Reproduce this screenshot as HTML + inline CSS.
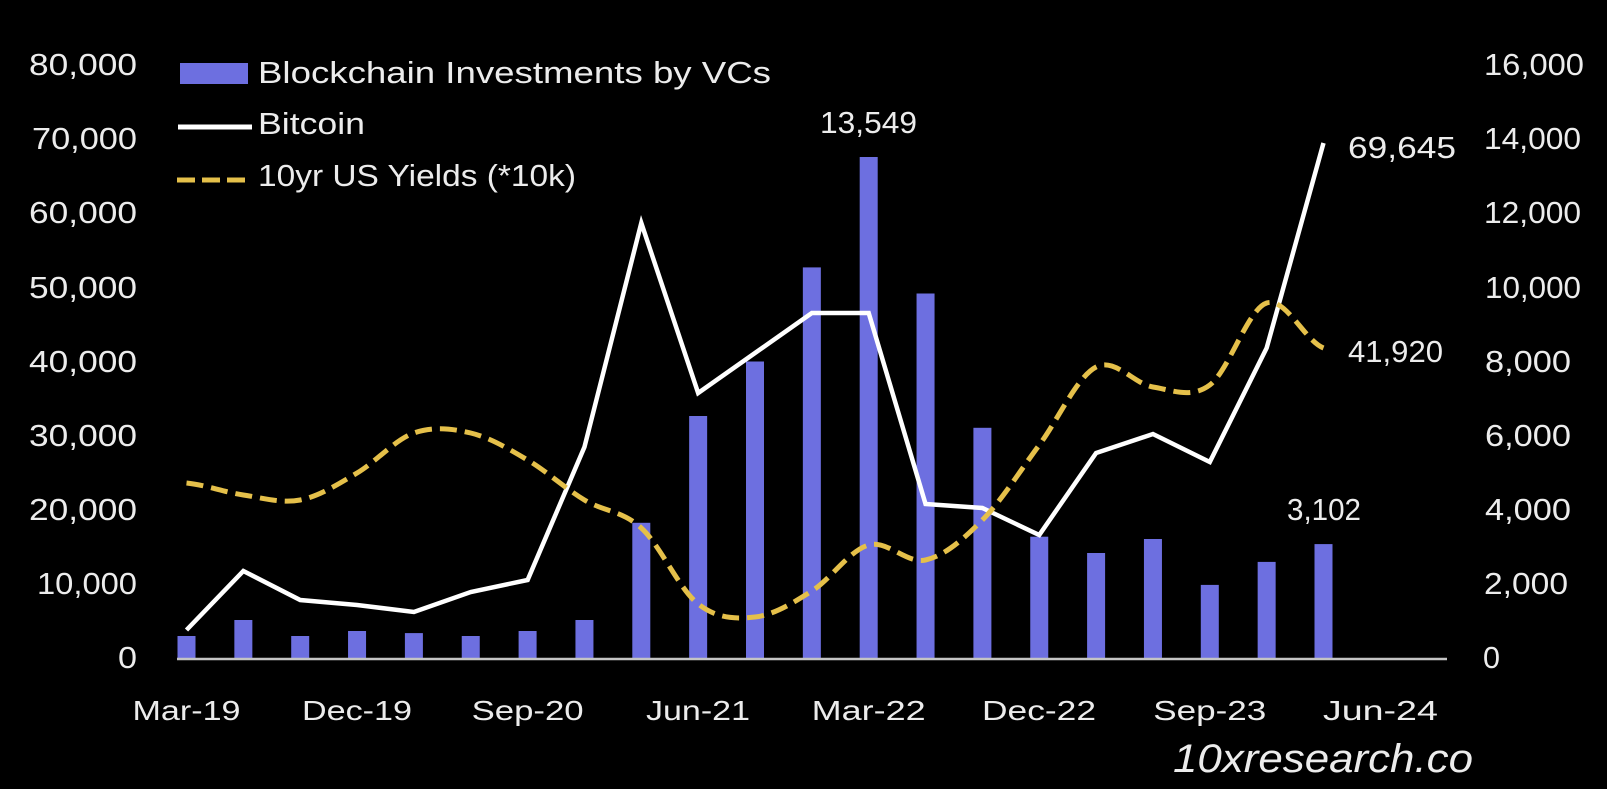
<!DOCTYPE html>
<html>
<head>
<meta charset="utf-8">
<style>
  html, body { margin:0; padding:0; background:#000; }
  body { width:1607px; height:789px; overflow:hidden; }
  svg { display:block; }
  text { font-family:"Liberation Sans", sans-serif; fill:#ececec; }
</style>
</head>
<body>
<svg width="1607" height="789" viewBox="0 0 1607 789" xmlns="http://www.w3.org/2000/svg">
  <rect x="0" y="0" width="1607" height="789" fill="#000"/>

  <!-- Left axis labels -->
  <g font-size="31" text-anchor="end">
    <text x="137" y="75" textLength="108" lengthAdjust="spacingAndGlyphs">80,000</text>
    <text x="137" y="149" textLength="105" lengthAdjust="spacingAndGlyphs">70,000</text>
    <text x="137" y="223" textLength="108" lengthAdjust="spacingAndGlyphs">60,000</text>
    <text x="137" y="298" textLength="108" lengthAdjust="spacingAndGlyphs">50,000</text>
    <text x="137" y="372" textLength="108" lengthAdjust="spacingAndGlyphs">40,000</text>
    <text x="137" y="446" textLength="108" lengthAdjust="spacingAndGlyphs">30,000</text>
    <text x="137" y="520" textLength="108" lengthAdjust="spacingAndGlyphs">20,000</text>
    <text x="137" y="594" textLength="100" lengthAdjust="spacingAndGlyphs">10,000</text>
    <text x="137" y="668" textLength="19" lengthAdjust="spacingAndGlyphs">0</text>
  </g>

  <!-- Right axis labels -->
  <g font-size="31">
    <text x="1484" y="75" textLength="100" lengthAdjust="spacingAndGlyphs">16,000</text>
    <text x="1484" y="149" textLength="97" lengthAdjust="spacingAndGlyphs">14,000</text>
    <text x="1484" y="223" textLength="97" lengthAdjust="spacingAndGlyphs">12,000</text>
    <text x="1485" y="298" textLength="96" lengthAdjust="spacingAndGlyphs">10,000</text>
    <text x="1485" y="372" textLength="86" lengthAdjust="spacingAndGlyphs">8,000</text>
    <text x="1485" y="446" textLength="86" lengthAdjust="spacingAndGlyphs">6,000</text>
    <text x="1485" y="520" textLength="86" lengthAdjust="spacingAndGlyphs">4,000</text>
    <text x="1484" y="594" textLength="84" lengthAdjust="spacingAndGlyphs">2,000</text>
    <text x="1483" y="668" textLength="17" lengthAdjust="spacingAndGlyphs">0</text>
  </g>

  <!-- Bars -->
  <g fill="#6d6fe0">
    <rect x="177.5" y="636.0" width="18" height="23.0"/>
    <rect x="234.35" y="620.0" width="18" height="39.0"/>
    <rect x="291.2" y="636.0" width="18" height="23.0"/>
    <rect x="348.05" y="631.0" width="18" height="28.0"/>
    <rect x="404.9" y="633.1" width="18" height="25.9"/>
    <rect x="461.75" y="636.0" width="18" height="23.0"/>
    <rect x="518.6" y="631.0" width="18" height="28.0"/>
    <rect x="575.45" y="620.0" width="18" height="39.0"/>
    <rect x="632.3" y="522.8" width="18" height="136.2"/>
    <rect x="689.15" y="416.0" width="18" height="243.0"/>
    <rect x="746.0" y="361.5" width="18" height="297.5"/>
    <rect x="802.85" y="267.4" width="18" height="391.6"/>
    <rect x="859.7" y="157.0" width="18" height="502.0"/>
    <rect x="916.55" y="293.5" width="18" height="365.5"/>
    <rect x="973.4" y="427.8" width="18" height="231.2"/>
    <rect x="1030.25" y="536.7" width="18" height="122.3"/>
    <rect x="1087.1" y="553.0" width="18" height="106.0"/>
    <rect x="1143.95" y="539.0" width="18" height="120.0"/>
    <rect x="1200.8" y="584.9" width="18" height="74.1"/>
    <rect x="1257.65" y="561.9" width="18" height="97.1"/>
    <rect x="1314.5" y="544.1" width="18" height="114.9"/>
  </g>

  <!-- Axis line -->
  <line x1="177" y1="659" x2="1447" y2="659" stroke="#c4c4c4" stroke-width="2.5"/>

  <!-- Bitcoin line -->
  <polyline fill="none" stroke="#ffffff" stroke-width="4.5" stroke-linejoin="miter"
    points="186.5,630 243.35,571 300.2,600 357.05,605 413.9,612 470.75,592 527.6,580 584.45,447 641.3,223 698.15,393 755,353 811.85,313 868.7,313 925.55,504 982.4,508 1039.25,535 1096.1,453 1152.95,434 1209.8,462 1266.65,348 1323.5,143"/>

  <!-- 10yr yields (smoothed, dashed) -->
  <path fill="none" stroke="#e5c04a" stroke-width="5" stroke-dasharray="17 8"
    d="M186.5,483
       C205.45,485 224.4,492.17 243.35,495
       C262.3,497.83 281.25,503.67 300.2,500
       C319.15,496.33 338.1,484.17 357.05,473
       C376,461.83 394.95,439.67 413.9,433
       C432.85,426.33 451.8,428.5 470.75,433
       C489.7,437.5 508.65,448.83 527.6,460
       C546.55,471.17 565.5,488.67 584.45,500
       C603.4,511.33 622.35,510.67 641.3,528
       C660.25,545.33 679.2,589.17 698.15,604
       C717.1,618.83 736.05,619.17 755,617
       C773.95,614.83 792.9,603 811.85,591
       C830.8,579 849.75,550.17 868.7,545
       C887.65,539.83 906.6,564.17 925.55,560
       C944.5,555.83 963.45,539.17 982.4,520
       C1001.35,500.83 1020.3,470.5 1039.25,445
       C1058.2,419.5 1077.15,376.67 1096.1,367
       C1115.05,357.33 1134,384 1152.95,387
       C1171.9,390 1190.85,399 1209.8,385
       C1228.75,371 1247.7,309.17 1266.65,303
       C1285.6,296.83 1304.55,340.5 1323.5,348"/>

  <!-- Data labels -->
  <g font-size="31">
    <text x="868.5" y="133" text-anchor="middle" textLength="97" lengthAdjust="spacingAndGlyphs">13,549</text>
    <text x="1348" y="158" textLength="108" lengthAdjust="spacingAndGlyphs">69,645</text>
    <text x="1348" y="362" textLength="95" lengthAdjust="spacingAndGlyphs">41,920</text>
    <text x="1287" y="520" textLength="74" lengthAdjust="spacingAndGlyphs">3,102</text>
  </g>

  <!-- X axis labels -->
  <g font-size="28" text-anchor="middle">
    <text x="186.5" y="720" textLength="108" lengthAdjust="spacingAndGlyphs">Mar-19</text>
    <text x="357" y="720" textLength="110" lengthAdjust="spacingAndGlyphs">Dec-19</text>
    <text x="527.6" y="720" textLength="112" lengthAdjust="spacingAndGlyphs">Sep-20</text>
    <text x="698" y="720" textLength="104" lengthAdjust="spacingAndGlyphs">Jun-21</text>
    <text x="868.7" y="720" textLength="114" lengthAdjust="spacingAndGlyphs">Mar-22</text>
    <text x="1039" y="720" textLength="114" lengthAdjust="spacingAndGlyphs">Dec-22</text>
    <text x="1209.8" y="720" textLength="113" lengthAdjust="spacingAndGlyphs">Sep-23</text>
    <text x="1380.4" y="720" textLength="115" lengthAdjust="spacingAndGlyphs">Jun-24</text>
  </g>

  <!-- Legend -->
  <rect x="180" y="63" width="68" height="21" fill="#6d6fe0"/>
  <line x1="178" y1="127" x2="252" y2="127" stroke="#ffffff" stroke-width="5"/>
  <line x1="177" y1="180" x2="245" y2="180" stroke="#e5c04a" stroke-width="5" stroke-dasharray="18 7"/>
  <g font-size="31">
    <text x="258" y="83" textLength="513" lengthAdjust="spacingAndGlyphs">Blockchain Investments by VCs</text>
    <text x="258" y="134" textLength="107" lengthAdjust="spacingAndGlyphs">Bitcoin</text>
    <text x="258" y="186" textLength="318" lengthAdjust="spacingAndGlyphs">10yr US Yields (*10k)</text>
  </g>

  <!-- Watermark -->
  <text x="1173" y="772" font-size="40" font-style="italic" textLength="300" lengthAdjust="spacingAndGlyphs" fill="#f2f2f2">10xresearch.co</text>
</svg>
</body>
</html>
